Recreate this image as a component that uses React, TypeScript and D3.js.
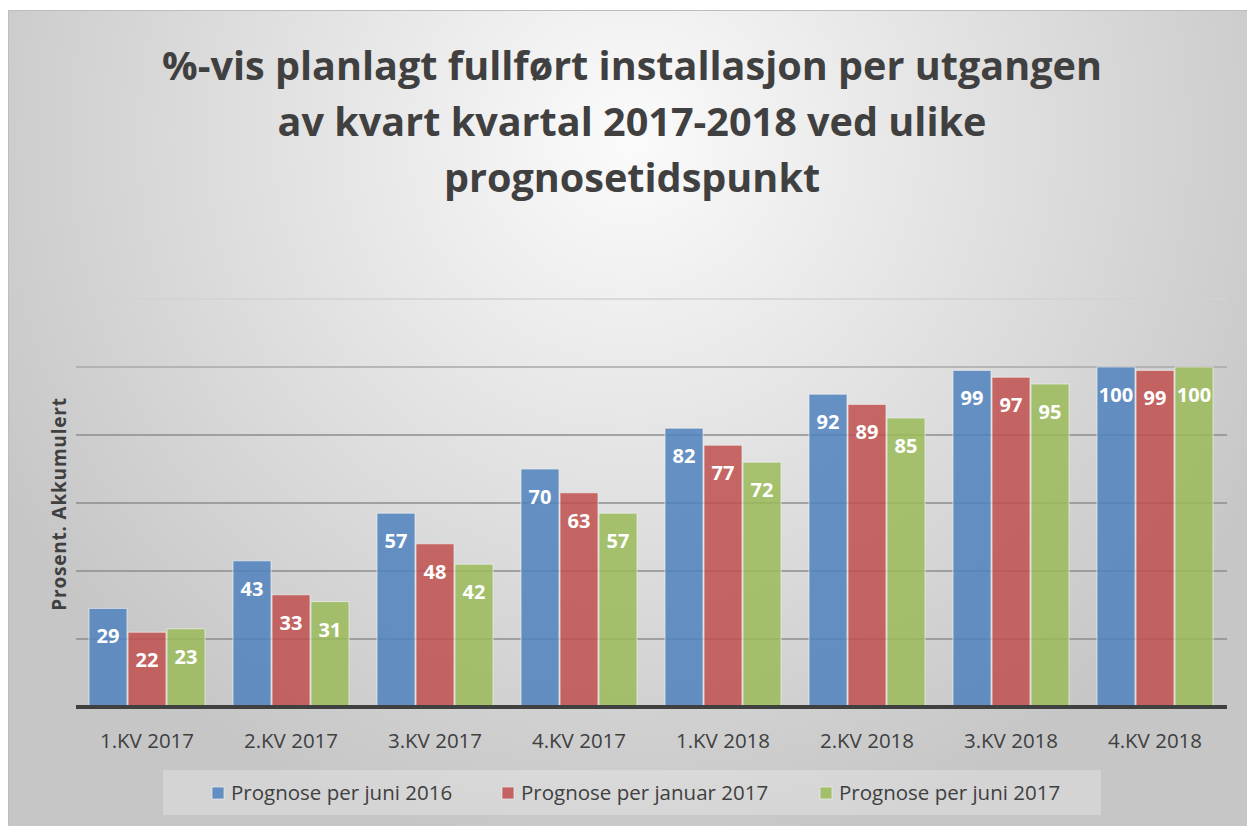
import React from "react";
import * as d3 from "d3";

const categories = ["1.KV 2017", "2.KV 2017", "3.KV 2017", "4.KV 2017", "1.KV 2018", "2.KV 2018", "3.KV 2018", "4.KV 2018"];
const seriesNames = ["Prognose per juni 2016", "Prognose per januar 2017", "Prognose per juni 2017"];
const juni2016 = [29, 43, 57, 70, 82, 92, 99, 100];
const januar2017 = [22, 33, 48, 63, 77, 89, 97, 99];
const juni2017 = [23, 31, 42, 57, 72, 85, 95, 100];
const yTicks = [0, 20, 40, 60, 80, 100, 120];
const titleLines = ["%-vis planlagt fullført installasjon per utgangen", "av kvart kvartal 2017-2018 ved ulike", "prognosetidspunkt"];

const seriesValues = [juni2016, januar2017, juni2017];
const colors = ["#4f81bd", "#c0504d", "#9bbb59"];

export default function App() {
  const W = 1247, H = 826;
  const x0 = d3.scaleBand<string>().domain(categories).range([75, 1227]).paddingInner(0.1875).paddingOuter(0.09375);
  const x1 = d3.scaleBand<number>().domain([0, 1, 2]).range([0, x0.bandwidth()]).padding(0);
  const y = d3.scaleLinear().domain([0, 120]).range([707, 299]);
  const font = "'Open Sans', 'DejaVu Sans', sans-serif";
  const legendX = [212, 502, 820];
  return (
    <div style={{ position: "absolute", left: 0, top: 0 }}>
      <svg width={W} height={H} style={{ display: "block" }}>
        <defs>
          <radialGradient id="bg" gradientUnits="userSpaceOnUse" cx={630} cy={140} r={720}>
            <stop offset="0" stopColor="#fbfbfb" />
            <stop offset="1" stopColor="#c6c6c6" />
          </radialGradient>
        </defs>
        <rect x={0} y={0} width={W} height={H} fill="#ffffff" />
        <rect x={8.5} y={10.5} width={W - 8} height={H - 10} fill="url(#bg)" stroke="#bdbdbd" strokeWidth={1} />
        {titleLines.map((t, i) => (
          <text key={i} x={632} y={80 + i * 56} textAnchor="middle" fontFamily={font} fontWeight={700} fontSize={39.6} fill="#404040">
            {t}
          </text>
        ))}
        {yTicks.filter((t) => t > 0).map((t) => (
          <line key={t} x1={76} x2={1227} y1={y(t)} y2={y(t)} stroke={t === 120 ? "#d2d2d2" : t === 100 ? "#a8a8a8" : "#8c8c8c"} strokeWidth={1.5} />
        ))}
        {categories.map((c, ci) => (
          <g key={c} transform={`translate(${x0(c)},0)`}>
            {seriesValues.map((vals, si) => {
              const v = vals[ci];
              const bx = x1(si)!;
              const bw = x1.bandwidth();
              return (
                <g key={si}>
                  <rect x={bx + 0.5} y={y(v)} width={bw - 1} height={y(0) - y(v)} fill={colors[si]} fillOpacity={0.85} stroke="#f0f0f0" strokeOpacity={0.7} strokeWidth={1} />
                  <text x={bx + bw / 2} y={y(v) + 35} textAnchor="middle" fontFamily={font} fontWeight={700} fontSize={20} fill="#ffffff">
                    {v}
                  </text>
                </g>
              );
            })}
            <text x={x0.bandwidth() / 2} y={748} textAnchor="middle" fontFamily={font} fontSize={20.5} fill="#404040">
              {c}
            </text>
          </g>
        ))}
        <line x1={76} x2={1227} y1={y(0)} y2={y(0)} stroke="#404040" strokeWidth={4} />
        <text transform={`translate(66,504) rotate(-90)`} textAnchor="middle" fontFamily={font} fontWeight={700} fontSize={19} letterSpacing={0.8} fill="#404040">
          Prosent. Akkumulert
        </text>
        <rect x={163} y={770} width={938} height={45} fill="#ffffff" fillOpacity={0.25} />
        {seriesNames.map((s, i) => (
          <g key={s}>
            <rect x={legendX[i]} y={787} width={12} height={12} fill={colors[i]} fillOpacity={0.85} stroke="#f0f0f0" strokeOpacity={0.7} />
            <text x={legendX[i] + 19} y={800} fontFamily={font} fontSize={20.5} fill="#404040">
              {s}
            </text>
          </g>
        ))}
      </svg>
    </div>
  );
}
